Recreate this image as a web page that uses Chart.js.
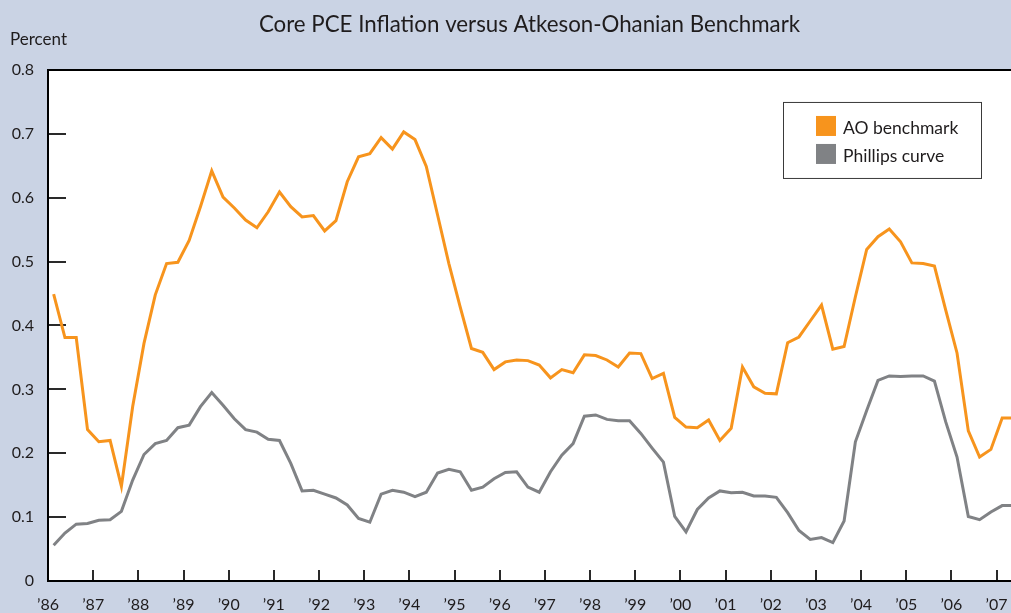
<!DOCTYPE html>
<html>
<head>
<meta charset="utf-8">
<script src="https://cdn.jsdelivr.net/npm/chart.js@4.4.0/dist/chart.umd.min.js"></script>
<style>
  html, body { margin: 0; padding: 0; background: #CAD3E4; }
  #wrap { width: 1011px; height: 613px; position: relative; }
  canvas { display: block; }
</style>
</head>
<body>
<div id="wrap"><canvas id="chart" width="1011" height="613"></canvas></div>
<script>
// ---------- Data (quarterly, 1986 Q1 onward) ----------
const chartTitle = 'Core PCE Inflation versus Atkeson-Ohanian Benchmark';
const yAxisUnit = 'Percent';
const firstYear = 1986;
const seriesNames = ['AO benchmark', 'Phillips curve'];

const aoBenchmark = [
  0.449, 0.381, 0.381, 0.237, 0.218, 0.220, 0.148, 0.273,
  0.372, 0.448, 0.497, 0.499, 0.533, 0.586, 0.642, 0.601,
  0.584, 0.565, 0.553, 0.578, 0.609, 0.586, 0.570, 0.572,
  0.548, 0.564, 0.625, 0.664, 0.669, 0.694, 0.676, 0.703,
  0.691, 0.649, 0.573, 0.497, 0.429, 0.364, 0.358, 0.331,
  0.343, 0.346, 0.345, 0.338, 0.318, 0.331, 0.326, 0.354,
  0.353, 0.346, 0.335, 0.357, 0.356, 0.317, 0.325, 0.256,
  0.241, 0.240, 0.252, 0.220, 0.239, 0.335, 0.304, 0.294,
  0.293, 0.373, 0.382, 0.407, 0.432, 0.363, 0.367, 0.445,
  0.519, 0.539, 0.551, 0.531, 0.498, 0.497, 0.493, 0.424,
  0.357, 0.235, 0.194, 0.206, 0.255, 0.255
];

const phillipsCurve = [
  0.056, 0.075, 0.089, 0.090, 0.095, 0.096, 0.109, 0.158,
  0.198, 0.215, 0.220, 0.240, 0.244, 0.273, 0.295, 0.275,
  0.254, 0.237, 0.233, 0.222, 0.220, 0.184, 0.141, 0.142,
  0.136, 0.130, 0.119, 0.098, 0.092, 0.136, 0.142, 0.139,
  0.132, 0.139, 0.169, 0.175, 0.171, 0.142, 0.147, 0.160,
  0.170, 0.171, 0.147, 0.139, 0.171, 0.197, 0.215, 0.258,
  0.260, 0.253, 0.251, 0.251, 0.231, 0.208, 0.186, 0.101,
  0.077, 0.112, 0.130, 0.141, 0.138, 0.139, 0.133, 0.133,
  0.131, 0.107, 0.079, 0.065, 0.068, 0.060, 0.094, 0.218,
  0.267, 0.314, 0.321, 0.320, 0.321, 0.321, 0.313, 0.249,
  0.194, 0.101, 0.096, 0.108, 0.118, 0.118
];

const yearTicks = [1986, 1987, 1988, 1989, 1990, 1991, 1992, 1993, 1994, 1995, 1996,
                   1997, 1998, 1999, 2000, 2001, 2002, 2003, 2004, 2005, 2006, 2007];
const yTicks = [0, 0.1, 0.2, 0.3, 0.4, 0.5, 0.6, 0.7, 0.8];

// ---------- Styling ----------
const ORANGE = '#F7941D';
const GRAY = '#808285';
const TEXT = '#1F1C1D';
const FONT = 'Lato';

// quarter midpoints as time positions
function toPoints(values) {
  return values.map((v, i) => ({ x: firstYear + 0.125 + 0.25 * i, y: v }));
}

const backgroundPlugin = {
  id: 'bg',
  beforeDraw(chart) {
    const { ctx, chartArea: a } = chart;
    ctx.save();
    ctx.fillStyle = '#CAD3E4';
    ctx.fillRect(0, 0, chart.width, chart.height);
    ctx.fillStyle = '#FFFFFF';
    ctx.fillRect(a.left, a.top, a.right - a.left, a.bottom - a.top);
    ctx.restore();
  },
  afterDraw(chart) {
    const { ctx, chartArea: a } = chart;
    ctx.save();
    // top frame line
    ctx.strokeStyle = '#000';
    ctx.lineWidth = 2;
    ctx.beginPath();
    ctx.moveTo(a.left - 1, a.top);
    ctx.lineTo(a.right, a.top);
    ctx.stroke();
    // unit label
    ctx.fillStyle = TEXT;
    ctx.font = '17px ' + FONT;
    ctx.textAlign = 'left';
    ctx.textBaseline = 'middle';
    ctx.fillText(yAxisUnit, 10, 40);
    ctx.restore();
  }
};

const boxLegendPlugin = {
  id: 'boxLegend',
  afterDraw(chart) {
    const { ctx, chartArea: a } = chart;
    const bx = a.right - 228, by = a.top + 32, bw = 198, bh = 76;
    ctx.save();
    ctx.fillStyle = '#FFFFFF';
    ctx.fillRect(bx, by, bw, bh);
    ctx.strokeStyle = '#3A3A3A';
    ctx.lineWidth = 1;
    ctx.strokeRect(bx + 0.5, by + 0.5, bw, bh);
    ctx.font = '17.5px ' + FONT;
    ctx.textAlign = 'left';
    ctx.textBaseline = 'middle';
    chart.data.datasets.forEach((ds, i) => {
      const sy = by + 14 + i * 28;
      ctx.fillStyle = ds.borderColor;
      ctx.fillRect(bx + 33, sy, 20, 20);
      ctx.fillStyle = TEXT;
      ctx.fillText(ds.label, bx + 60, sy + 12);
    });
    ctx.restore();
  }
};

new Chart(document.getElementById('chart'), {
  type: 'line',
  data: {
    datasets: [
      { label: seriesNames[0], data: toPoints(aoBenchmark), borderColor: ORANGE, backgroundColor: ORANGE,
        borderWidth: 3, pointRadius: 0, tension: 0, fill: false, borderJoinStyle: 'miter' },
      { label: seriesNames[1], data: toPoints(phillipsCurve), borderColor: GRAY, backgroundColor: GRAY,
        borderWidth: 3, pointRadius: 0, tension: 0, fill: false, borderJoinStyle: 'miter' }
    ]
  },
  options: {
    responsive: false,
    animation: false,
    devicePixelRatio: 1,
    layout: { padding: 0 },
    plugins: {
      legend: { display: false },
      tooltip: { enabled: false },
      title: {
        display: true,
        fullSize: false,
        text: chartTitle,
        color: TEXT,
        font: { family: FONT, size: 22.3, weight: 'normal' },
        padding: { top: 11, bottom: 32.2 }
      }
    },
    scales: {
      x: {
        type: 'linear',
        position: 'bottom',
        min: 1986,
        max: 2007.32,
        afterBuildTicks: s => { s.ticks = yearTicks.map(v => ({ value: v })); },
        afterFit: s => { s.height = 32; s.paddingLeft = 0; s.paddingRight = 0; },
        ticks: {
          autoSkip: false, maxRotation: 0, minRotation: 0,
          padding: 25.4,
          color: TEXT,
          font: { family: FONT, size: 16 },
          callback: v => '\u2019' + String(v).slice(2)
        },
        grid: { drawOnChartArea: false, drawTicks: true, tickLength: -11, color: '#2A2A2A', lineWidth: 2 },
        border: { display: true, color: '#000', width: 2 }
      },
      y: {
        type: 'linear',
        position: 'left',
        min: 0,
        max: 0.8,
        afterBuildTicks: s => { s.ticks = yTicks.map(v => ({ value: v })); },
        afterFit: s => { s.width = 48; s.paddingTop = 0; s.paddingBottom = 0; },
        ticks: {
          padding: 32,
          color: TEXT,
          font: { family: FONT, size: 16 },
          callback: v => (v === 0 ? '0' : v.toFixed(1))
        },
        grid: { drawOnChartArea: false, drawTicks: true, tickLength: -18, color: '#2A2A2A', lineWidth: 2 },
        border: { display: true, color: '#000', width: 2 }
      }
    }
  },
  plugins: [backgroundPlugin, boxLegendPlugin]
});
</script>
</body>
</html>
